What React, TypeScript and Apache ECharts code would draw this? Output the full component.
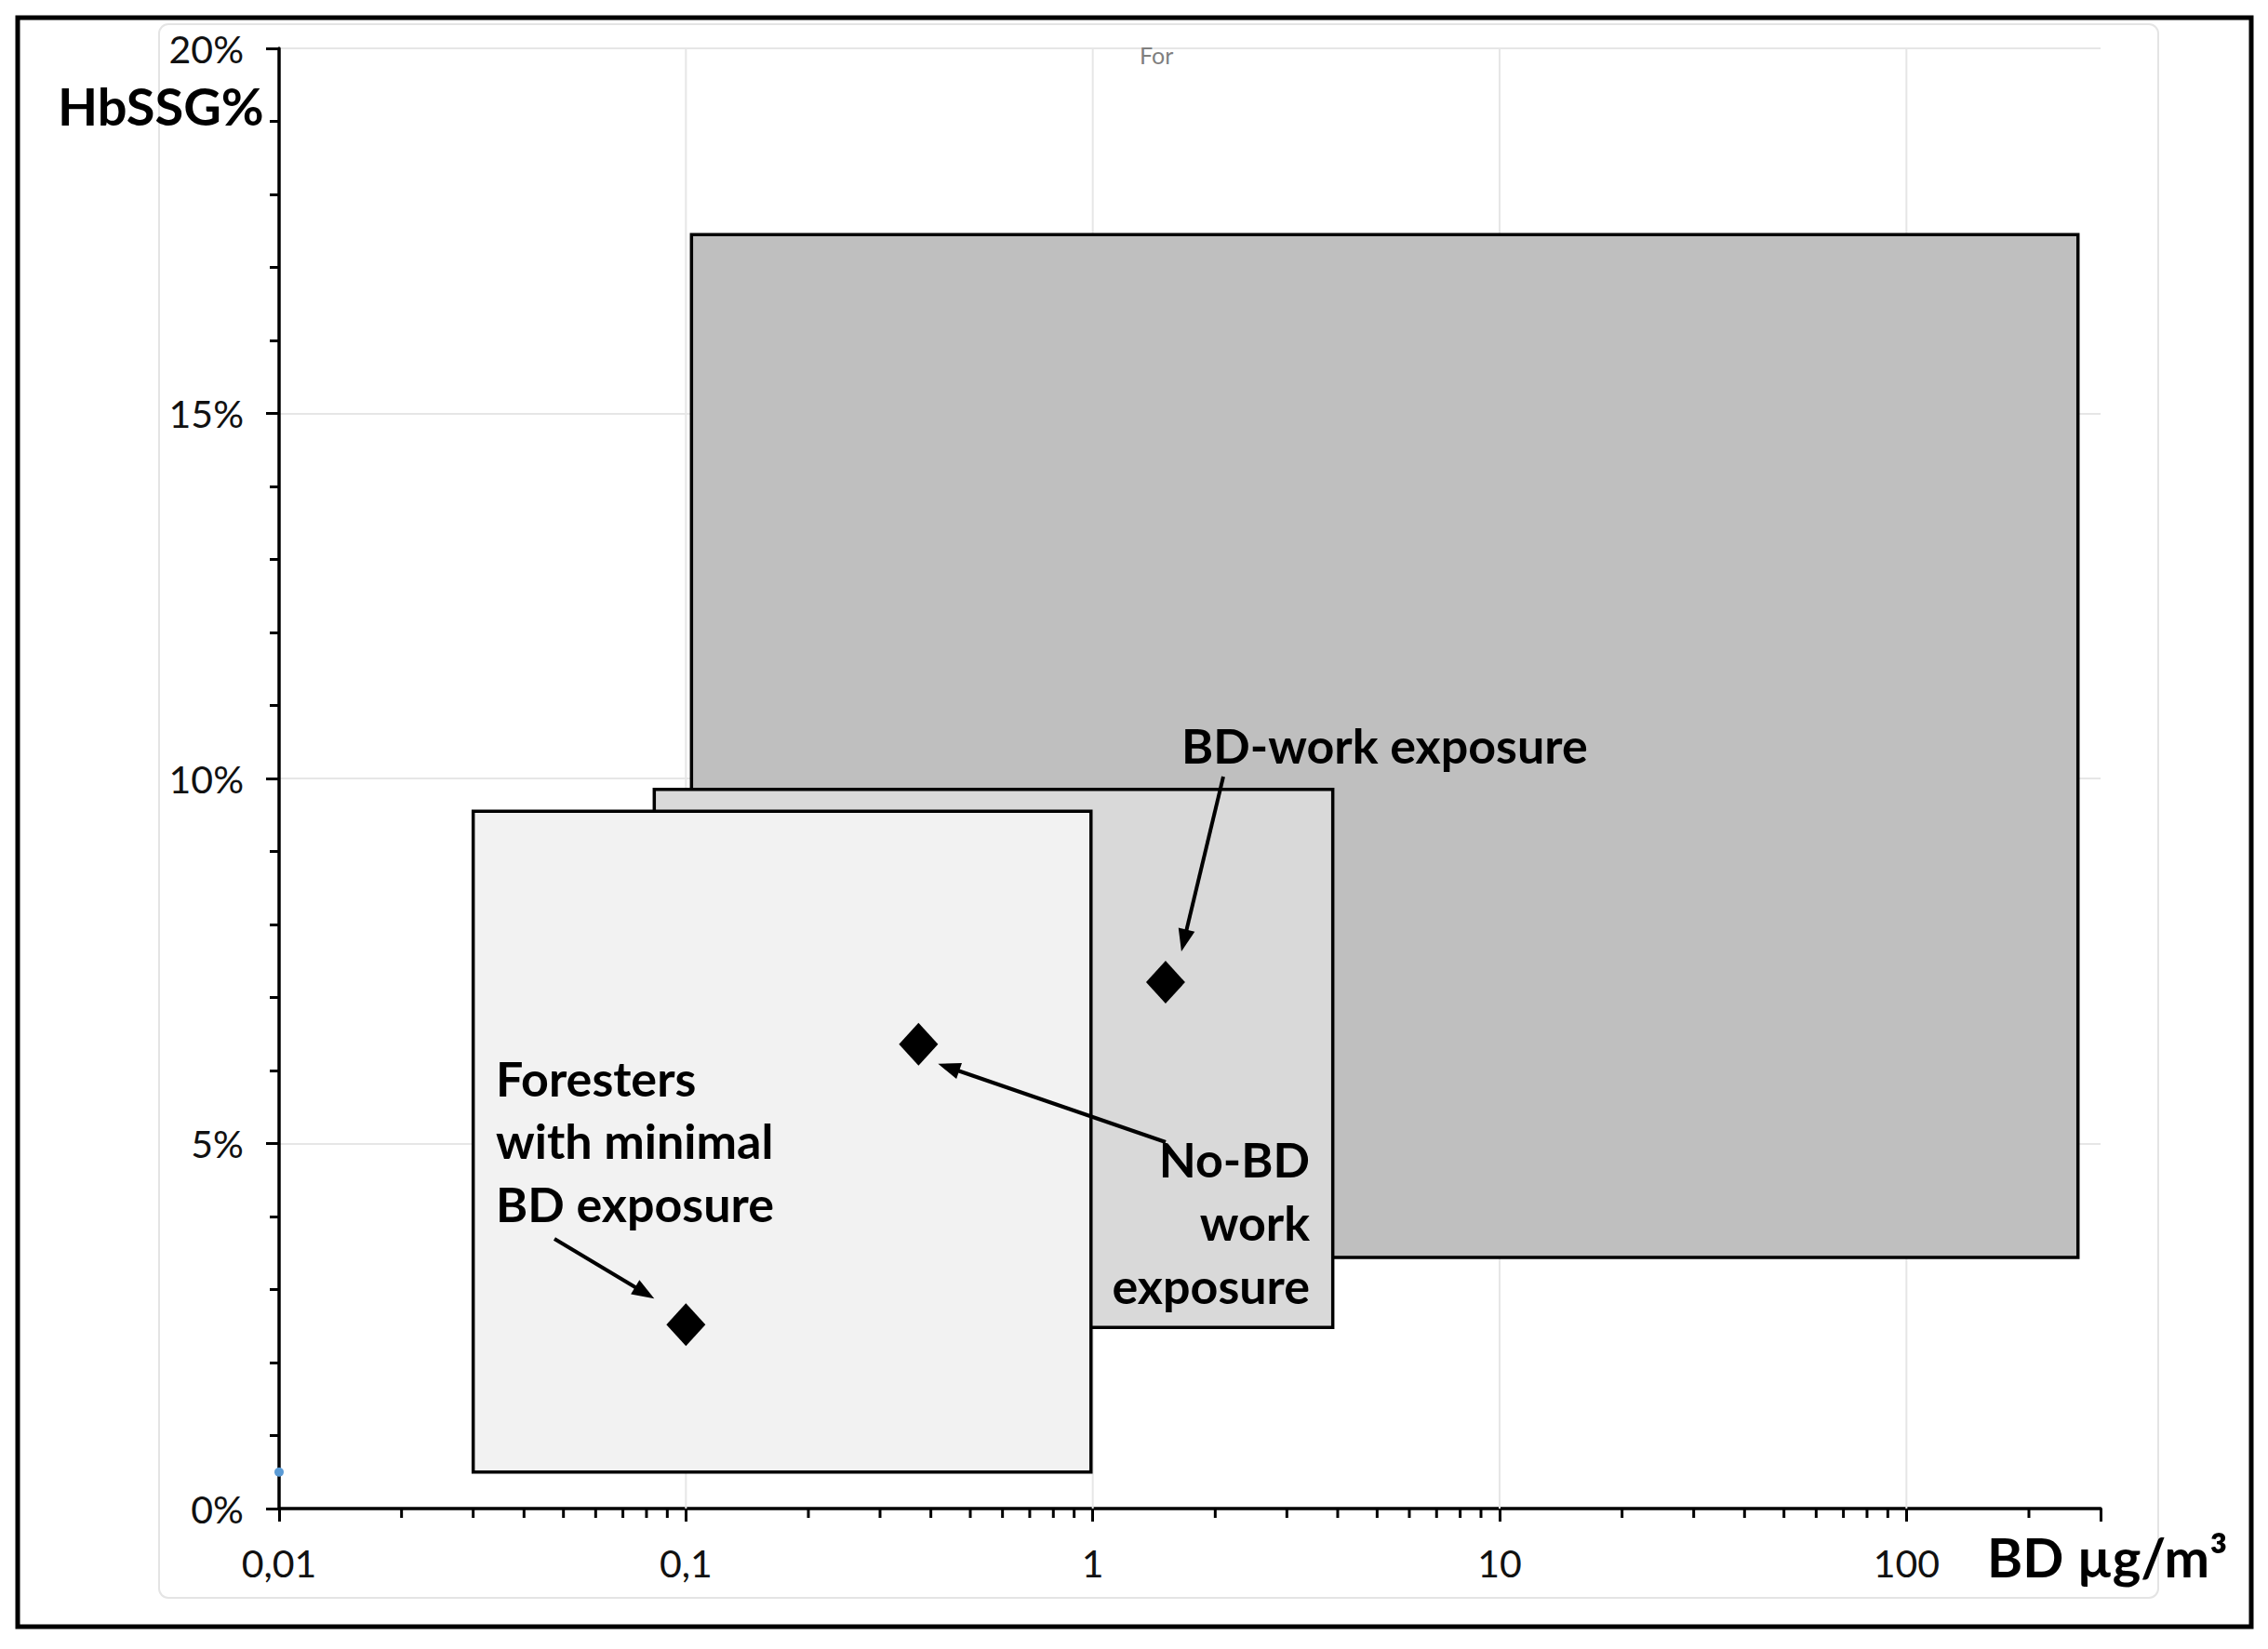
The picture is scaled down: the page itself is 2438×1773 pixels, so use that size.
import React, { useEffect, useRef } from "react";
import * as echarts from "echarts";

// ---------- data ----------
const xTickLabels = ["0,01", "0,1", "1", "10", "100"];
const groupNames = ["BD-work exposure", "No-BD work exposure", "Foresters with minimal BD exposure"];
// boxes: BD range (x) and HbSSG% range (y)
const boxXMin = [0.1032, 0.0836, 0.03];
const boxXMax = [264, 3.89, 0.99];
const boxYMin = [3.44, 2.48, 0.5];
const boxYMax = [17.45, 9.85, 9.55];
// group medians
const pointX = [1.51, 0.373, 0.1];
const pointY = [7.21, 6.36, 2.52];
// stray reference point
const refX = [0.01];
const refY = [0.5];
// axis decorations
const xGridValues = [0.1, 1, 10, 100];
const xMinorTicks = [
  0.02, 0.03, 0.04, 0.05, 0.06, 0.07, 0.08, 0.09,
  0.2, 0.3, 0.4, 0.5, 0.6, 0.7, 0.8, 0.9,
  2, 3, 4, 5, 6, 7, 8, 9,
  20, 30, 40, 50, 60, 70, 80, 90,
  200,
];

// ---------- styles ----------
const FONT = "Lato, 'Open Sans', sans-serif";
const boxColors = ["#bfbfbf", "#d9d9d9", "#f2f2f2"];

function arrow(x1: number, y1: number, x2: number, y2: number) {
  const dx = x2 - x1;
  const dy = y2 - y1;
  const len = Math.hypot(dx, dy);
  const ux = dx / len;
  const uy = dy / len;
  const L = 24;
  const W = 9;
  const bx = x2 - ux * L;
  const by = y2 - uy * L;
  return [
    { type: "line", z: 100, shape: { x1, y1, x2: bx + ux * 4, y2: by + uy * 4 }, style: { stroke: "#000", lineWidth: 4 } },
    {
      type: "polygon",
      z: 100,
      shape: { points: [[x2, y2], [bx - uy * W, by + ux * W], [bx + uy * W, by - ux * W]] },
      style: { fill: "#000" },
    },
  ];
}

function txt(text: string, x: number, y: number, align: string, font: string, fill = "#000") {
  return {
    type: "text",
    z: 100,
    style: { text, x, y, textAlign: align, textVerticalAlign: "middle", font, fill },
  };
}

export default function App() {
  const ref = useRef<HTMLDivElement>(null);

  useEffect(() => {
    document.body.style.margin = "0";
    document.body.style.overflow = "hidden";
    const chart = echarts.init(ref.current!, undefined, { renderer: "svg" });

    const option: any = {
      animation: false,
      backgroundColor: "#fff",
      grid: { left: 300, top: 52, width: 1958, height: 1570, containLabel: false, outerBoundsMode: "none" },
      xAxis: {
        type: "log",
        logBase: 10,
        min: 0.01,
        max: 300,
        axisLine: { show: true, onZero: false, lineStyle: { color: "#000", width: 3.5 } },
        axisTick: { show: true, length: 14, lineStyle: { color: "#000", width: 3 } },
        minorTick: { show: false },
        splitLine: { show: false },
        axisLabel: {
          fontFamily: FONT,
          fontSize: 41,
          color: "#111",
          margin: 38,
          formatter: (v: number) => {
            const k = Math.log10(v);
            const r = Math.round(k);
            if (Math.abs(k - r) > 1e-6) return "";
            return xTickLabels[r + 2] ?? "";
          },
        },
      },
      yAxis: {
        type: "value",
        min: 0,
        max: 20,
        interval: 5,
        axisLine: { show: true, onZero: false, lineStyle: { color: "#000", width: 3.5 } },
        axisTick: { show: true, length: 14, lineStyle: { color: "#000", width: 3 } },
        minorTick: { show: true, splitNumber: 5, length: 10, lineStyle: { color: "#000", width: 3 } },
        splitLine: { show: true, lineStyle: { color: "#e6e6e6", width: 2 } },
        axisLabel: {
          fontFamily: FONT,
          fontSize: 41,
          color: "#111",
          margin: 38,
          formatter: "{value}%",
        },
      },
      series: [
        {
          type: "custom",
          name: "grid",
          z: 1,
          silent: true,
          encode: { x: 0, y: 1 },
          data: xGridValues.map((v) => [v, 0]),
          renderItem: (_p: any, api: any) => {
            const a = api.coord([api.value(0), 0]);
            const b = api.coord([api.value(0), 20]);
            return {
              type: "line",
              shape: { x1: a[0], y1: a[1], x2: b[0], y2: b[1] },
              style: { stroke: "#e6e6e6", lineWidth: 2 },
            };
          },
        },
        {
          type: "custom",
          name: "ranges",
          z: 2,
          silent: true,
          encode: { x: [0, 1], y: [2, 3] },
          data: groupNames.map((_, i) => [boxXMin[i], boxXMax[i], boxYMin[i], boxYMax[i]]),
          renderItem: (p: any, api: any) => {
            const tl = api.coord([api.value(0), api.value(3)]);
            const br = api.coord([api.value(1), api.value(2)]);
            return {
              type: "rect",
              shape: { x: tl[0], y: tl[1], width: br[0] - tl[0], height: br[1] - tl[1] },
              style: { fill: boxColors[p.dataIndex], stroke: "#000", lineWidth: 3.5 },
            };
          },
        },
        {
          type: "custom",
          name: "minorTicks",
          z: 3,
          silent: true,
          clip: false,
          encode: { x: 0, y: 1 },
          data: xMinorTicks.map((v) => [v, 0]),
          renderItem: (_p: any, api: any) => {
            const a = api.coord([api.value(0), 0]);
            return {
              type: "line",
              shape: { x1: a[0], y1: a[1], x2: a[0], y2: a[1] + 10 },
              style: { stroke: "#000", lineWidth: 3 },
            };
          },
        },
        {
          type: "scatter",
          name: "medians",
          z: 5,
          symbol: "diamond",
          symbolSize: [42, 46],
          itemStyle: { color: "#000", opacity: 1 },
          data: pointX.map((x, i) => [x, pointY[i]]),
        },
        {
          type: "scatter",
          name: "ref",
          z: 10,
          zlevel: 0,
          symbol: "circle",
          symbolSize: 10,
          clip: false,
          itemStyle: { color: "#5b9bd5", opacity: 1 },
          data: refX.map((x, i) => [x, refY[i]]),
        },
      ],
    };
    chart.setOption(option);

    const px = (i: number) => chart.convertToPixel({ xAxisIndex: 0, yAxisIndex: 0 }, [pointX[i], pointY[i]]) as number[];
    const p0 = px(0);
    const p1 = px(1);
    const p2 = px(2);
    const bold = `bold 52px ${FONT}`;

    const graphic: any[] = [
      {
        type: "rect",
        z: 0,
        shape: { x: 171, y: 26, width: 2149, height: 1692, r: 10 },
        style: { fill: "none", stroke: "#e4e4e4", lineWidth: 2 },
      },
      {
        type: "rect",
        z: 100,
        shape: { x: 19, y: 19, width: 2401, height: 1730 },
        style: { fill: "none", stroke: "#000", lineWidth: 5 },
      },
      txt("HbSSG%", 62, 113, "left", `bold 56px ${FONT}`),
      txt("BD µg/m³", 2136, 1673, "left", `bold 58px ${FONT}`),
      txt("For", 1225, 59, "left", `25px ${FONT}`, "#7f7f7f"),
      txt("BD-work exposure", 1270, 801, "left", bold),
      txt("No-BD", 1408, 1246, "right", bold),
      txt("work", 1408, 1314, "right", bold),
      txt("exposure", 1408, 1382, "right", bold),
      txt("Foresters", 533, 1159, "left", bold),
      txt("with minimal", 533, 1226, "left", bold),
      txt("BD exposure", 533, 1294, "left", bold),
      ...arrow(1315, 835, p0[0] + 17, p0[1] - 33),
      ...arrow(1253, 1228, p1[0] + 21, p1[1] + 21),
      ...arrow(596, 1332, p2[0] - 34, p2[1] - 28),
    ];
    chart.setOption({ graphic });

    return () => chart.dispose();
  }, []);

  return <div ref={ref} style={{ width: 2438, height: 1773 }} />;
}
